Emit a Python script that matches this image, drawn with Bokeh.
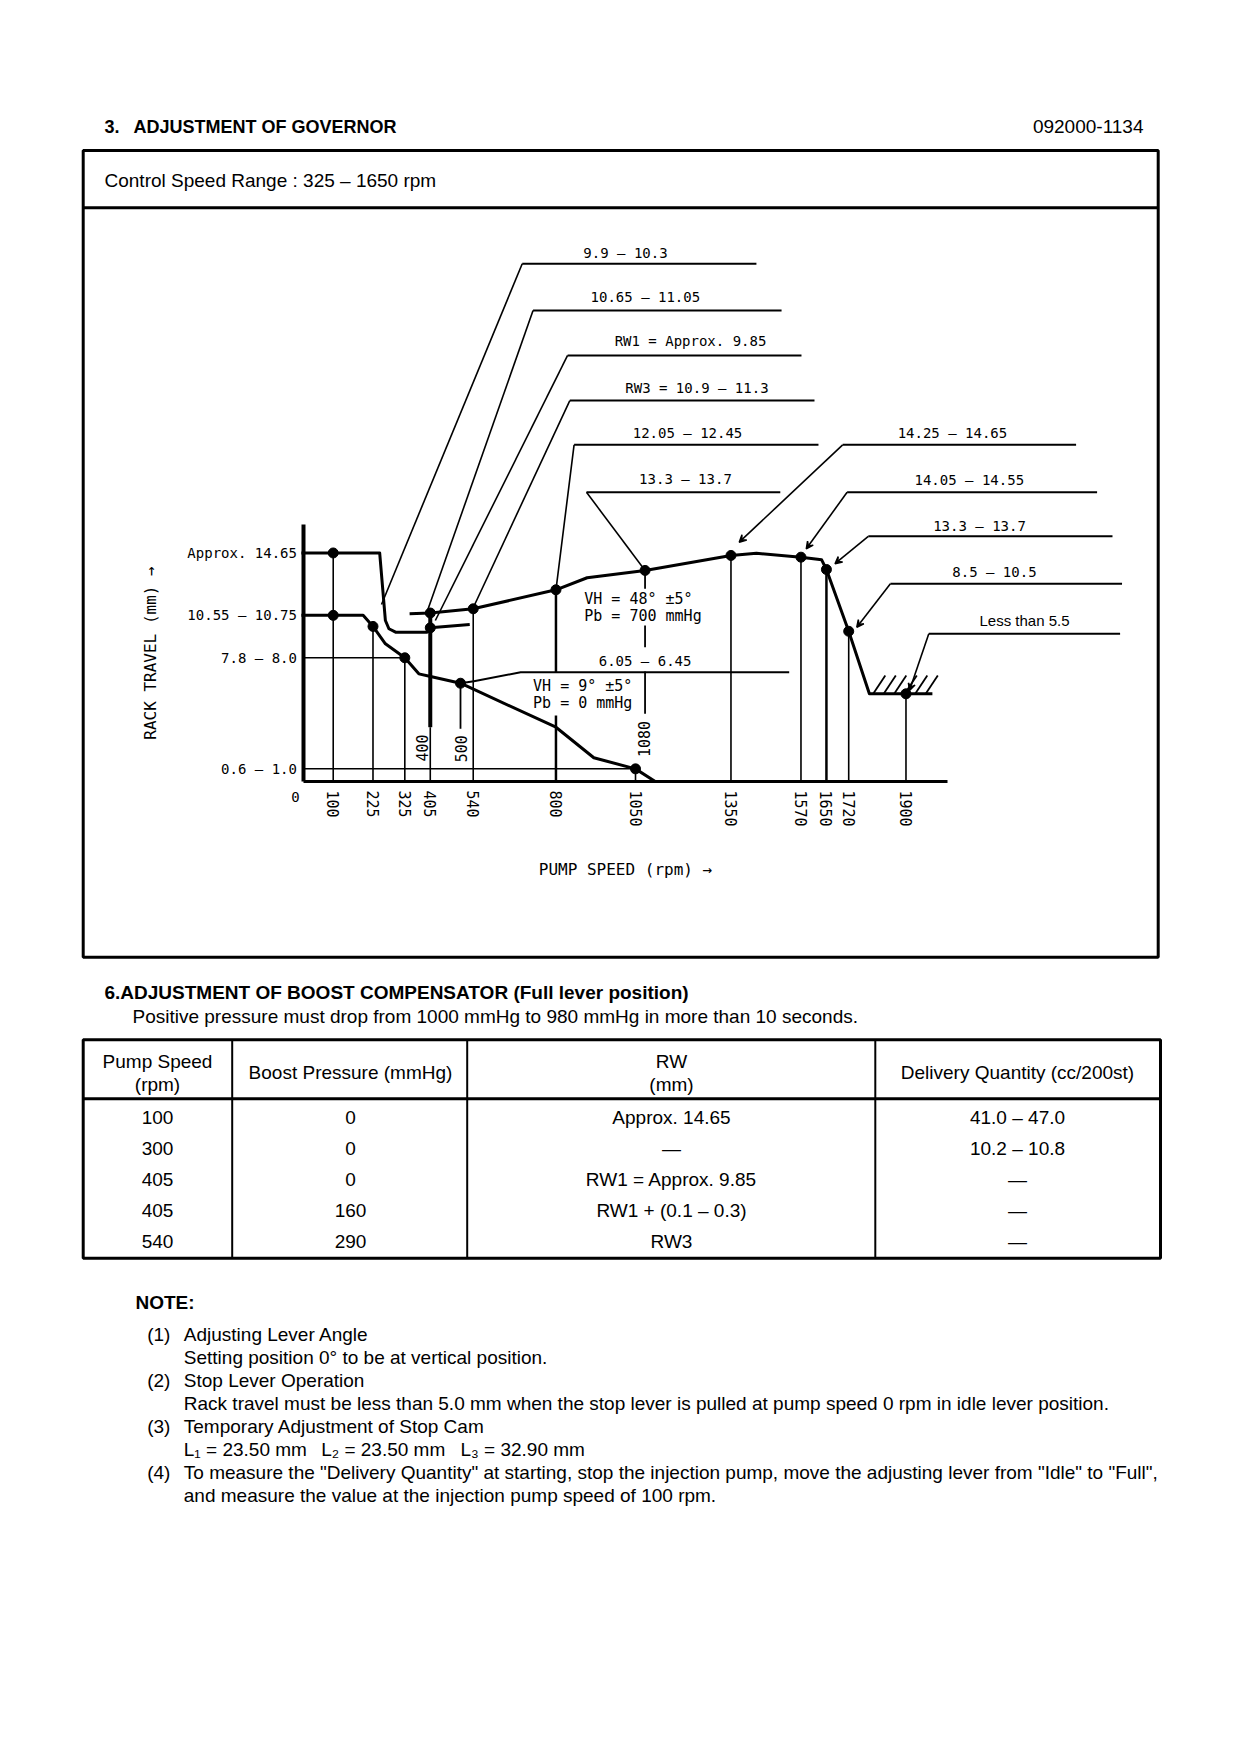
from math import pi
from bokeh.plotting import figure
from bokeh.models import Range1d, LinearAxis, FixedTicker, Arrow, VeeHead, ColumnDataSource
from bokeh.core.properties import value
from bokeh.embed import file_html
from bokeh.resources import INLINE

# ------------------------------------------------------------------ data
# axis ticks
x_tick_rpm = [100, 225, 325, 405, 540, 800, 1050, 1350, 1570, 1650, 1720, 1900]
y_tick_mm = [14.65, 10.65, 7.9, 0.8]
y_tick_labels = ["Approx. 14.65", "10.55 – 10.75", "7.8 – 8.0", "0.6 – 1.0"]

# starting curve (Pb = 0)
start_rpm = [0, 246, 264, 275, 296, 395, 405, 529]
start_mm = [14.65, 14.65, 10.32, 9.79, 9.57, 9.57, 9.85, 10.06]

# boost curve (VH = 48 deg, Pb = 700 mmHg)
boost_rpm = [340, 405, 540, 800, 898, 1080, 1350, 1430, 1570, 1635, 1650, 1720, 1785, 1983]
boost_mm = [10.75, 10.8, 11.07, 12.29, 13.06, 13.53, 14.49, 14.63, 14.38, 14.21, 13.59, 9.63, 5.62, 5.62]

# idle curve (VH = 9 deg, Pb = 0 mmHg)
idle_rpm = [0, 100, 194, 225, 264, 325, 369, 406, 500, 800, 919, 1050, 1112]
idle_mm = [10.65, 10.65, 10.65, 9.94, 8.83, 7.93, 6.9, 6.73, 6.3, 3.48, 1.52, 0.81, 0.0]

# 6.05 - 6.45 branch
branch_rpm = [500, 542, 689, 1533]
branch_mm = [6.3, 6.43, 7.0, 7.0]

# measuring points
pt_rpm = [100, 100, 225, 325, 405, 405, 500, 540, 800, 1050, 1080, 1350, 1570, 1650, 1720, 1900]
pt_mm = [14.65, 10.65, 9.94, 7.93, 9.85, 10.8, 6.3, 11.07, 12.29, 0.81, 13.53, 14.49, 14.38, 13.59, 9.63, 5.62]

# drop lines to the speed axis
drop_rpm = [100, 225, 325, 405, 540, 1050, 1350, 1570, 1720, 1900]
drop_top = [14.65, 9.94, 7.93, 3.48, 11.07, 0.81, 14.49, 14.38, 9.63, 5.62]
heavy_rpm = [405, 1650, 800, 800]
heavy_top = [10.8, 13.59, 12.29, 4.23]
heavy_bot = [3.48, 0.0, 7.0, 0.0]
part_rpm = [500, 1080, 1080, 1080]
part_top = [6.3, 13.53, 10.0, 7.05]
part_bot = [3.38, 12.35, 8.6, 4.34]

# horizontal guides from the rack travel axis
guide_mm = [7.93, 0.81]
guide_to = [325, 1050]

# hatch under "Less than 5.5"
hatch_rpm = [1797, 1830, 1863, 1896, 1929, 1962]
hatch_lo, hatch_hi = 5.62, 6.79

# in-chart notes
rot_text = ["400", "500", "1080"]
rot_rpm = [380, 502, 1078]
rot_mm = [2.15, 2.1, 2.73]
vh_text = ["VH = 48° ±5°", "Pb = 700 mmHg", "VH = 9° ±5°", "Pb = 0 mmHg"]
vh_rpm = [889, 889, 728, 728]
vh_mm = [11.7, 10.64, 6.11, 5.02]
mid_text = ["6.05 – 6.45"]
mid_rpm = [1080]
mid_mm = [7.7]

# leader annotations
ann_text = ["9.9 – 10.3", "10.65 – 11.05", "RW1 = Approx. 9.85", "RW3 = 10.9 – 11.3",
            "12.05 – 12.45", "13.3 – 13.7", "14.25 – 14.65", "14.05 – 14.55",
            "13.3 – 13.7", "8.5 – 10.5", "Less than 5.5"]
ann_lab_rpm = [1018.5, 1081, 1222.8, 1243, 1213.4, 1207, 2046, 2099, 2131, 2178, 2272.5]
ann_lab_mm = [33.87, 31.04, 28.21, 25.21, 22.37, 19.4, 22.37, 19.34, 16.41, 13.46, 10.32]
ann_line_mm = [33.19, 30.19, 27.31, 24.42, 21.58, 18.54, 21.58, 18.54, 15.72, 12.67, 9.47]
ann_from = [694, 728, 836.6, 843.5, 857, 896, 1701, 1715, 1781.6, 1851, 1971.7]
ann_to = [1430, 1509, 1571.6, 1612.5, 1625, 1505, 2434.6, 2500.6, 2549, 2579, 2572.9]
ann_tip_rpm = [251.7, 397, 421, 541.8, 800, 1080, 1376, 1586.7, 1677, 1745.4, 1911]
ann_tip_mm = [11.35, 11.0, 10.32, 11.22, 12.29, 13.53, 15.34, 14.92, 13.96, 9.89, 5.83]
ann_arrow = [False, False, False, False, False, False, True, True, True, True, True]

# page texts
title_num = "3."
title_text = "ADJUSTMENT OF GOVERNOR"
part_no = "092000-1134"
speed_range = "Control Speed Range : 325 – 1650 rpm"
sec6_title = "6.ADJUSTMENT OF BOOST COMPENSATOR (Full lever position)"
sec6_sub = "Positive pressure must drop from 1000 mmHg to 980 mmHg in more than 10 seconds."

tbl_head = [["Pump Speed", "(rpm)"], ["Boost Pressure (mmHg)"], ["RW", "(mm)"], ["Delivery Quantity (cc/200st)"]]
tbl_speed = ["100", "300", "405", "405", "540"]
tbl_boost = ["0", "0", "0", "160", "290"]
tbl_rw = ["Approx. 14.65", "—", "RW1 = Approx. 9.85", "RW1 + (0.1 – 0.3)", "RW3"]
tbl_q = ["41.0 – 47.0", "10.2 – 10.8", "—", "—", "—"]

note_head = "NOTE:"
note_nums = ["(1)", "(2)", "(3)", "(4)"]
note_lines = [
    "Adjusting Lever Angle",
    "Setting position 0° to be at vertical position.",
    "Stop Lever Operation",
    "Rack travel must be less than 5.0 mm when the stop lever is pulled at pump speed 0 rpm in idle lever position.",
    "Temporary Adjustment of Stop Cam",
    None,
    "To measure the \"Delivery Quantity\" at starting, stop the injection pump, move the adjusting lever from \"Idle\" to \"Full\",",
    "and measure the value at the injection pump speed of 100 rpm.",
]
cam_text = ["L₁ = 23.50 mm", "L₂ = 23.50 mm", "L₃ = 32.90 mm"]

# ------------------------------------------------------------------ layout
PW, PH, OFF = 1224, 1738, 0
RPM0_X, PX_RPM = 300.9, 0.3182      # page x of 0 rpm, px per rpm
MM0_Y, PX_MM = 781.0, 15.6          # page y of 0 mm, px per mm

CHART_FONT = value("DejaVu Sans Mono")
PAGE_FONT = value("Liberation Sans")

p = figure(width=PW, height=PH,
           x_range=Range1d((OFF - RPM0_X) / PX_RPM, (OFF + PW - RPM0_X) / PX_RPM),
           y_range=Range1d((MM0_Y - (OFF + PH)) / PX_MM, (MM0_Y - OFF) / PX_MM),
           output_backend="svg", toolbar_location=None,
           x_axis_location=None, y_axis_location=None, min_border=0,
           outline_line_color=None, background_fill_color="white", border_fill_color="white")
p.grid.visible = False
p.extra_x_ranges = {"page": Range1d(OFF, OFF + PW)}
p.extra_y_ranges = {"page": Range1d(OFF + PH, OFF)}
PG = dict(x_range_name="page", y_range_name="page")

# ---- axes of the governor chart
xaxis = LinearAxis(fixed_location=0, bounds=(8, 2032), ticker=FixedTicker(ticks=x_tick_rpm),
                   major_label_orientation="vertical", major_label_standoff=9,
                   major_tick_in=0, major_tick_out=0, minor_tick_in=0, minor_tick_out=0,
                   axis_line_width=3, axis_line_color="black",
                   major_label_text_font="DejaVu Sans Mono", major_label_text_font_size="15px",
                   major_label_text_color="black",
                   axis_label="PUMP SPEED (rpm) →", axis_label_standoff=30,
                   axis_label_text_font="DejaVu Sans Mono", axis_label_text_font_size="16px",
                   axis_label_text_font_style="normal", axis_label_text_color="black")
p.add_layout(xaxis, "below")

yaxis = LinearAxis(fixed_location=8, bounds=(0, 16.5), ticker=FixedTicker(ticks=y_tick_mm),
                   major_label_overrides={t: s for t, s in zip(y_tick_mm, y_tick_labels)},
                   major_label_standoff=7,
                   major_tick_in=0, major_tick_out=0, minor_tick_in=0, minor_tick_out=0,
                   axis_line_width=4, axis_line_color="black",
                   major_label_text_font="DejaVu Sans Mono", major_label_text_font_size="14px",
                   major_label_text_color="black",
                   axis_label="RACK TRAVEL (mm) →", axis_label_standoff=24,
                   axis_label_text_font="DejaVu Sans Mono", axis_label_text_font_size="16px",
                   axis_label_text_font_style="normal", axis_label_text_color="black")
p.add_layout(yaxis, "left")

p.text(x=[-18.5], y=[-1.0], text=["0"], text_font=CHART_FONT, text_font_size="14px",
       text_align="center", text_baseline="middle", text_color="black")

# ---- guides and drop lines
p.segment(x0=[8] * len(guide_mm), y0=guide_mm, x1=guide_to, y1=guide_mm, line_width=1.5, color="black")
p.segment(x0=drop_rpm, y0=drop_top, x1=drop_rpm, y1=[0] * len(drop_rpm), line_width=1.6, color="black")
p.segment(x0=heavy_rpm, y0=heavy_top, x1=heavy_rpm, y1=heavy_bot, line_width=[4, 2.5, 2.5, 2.5], color="black")
p.segment(x0=part_rpm, y0=part_top, x1=part_rpm, y1=part_bot, line_width=1.8, color="black")

# ---- curves
for xs, ys, w in [(start_rpm, start_mm, 3), (boost_rpm, boost_mm, 3),
                  (idle_rpm, idle_mm, 3), (branch_rpm, branch_mm, 2)]:
    p.line(xs, ys, line_width=w, color="black", line_join="round")

# hatch
p.segment(x0=hatch_rpm, y0=[hatch_lo] * len(hatch_rpm),
          x1=[r + 38 for r in hatch_rpm], y1=[hatch_hi] * len(hatch_rpm), line_width=1.8, color="black")

# measuring points
p.scatter(pt_rpm, pt_mm, marker="circle", size=10, color="black")

# ---- leader annotations
p.segment(x0=ann_from, y0=ann_line_mm, x1=ann_to, y1=ann_line_mm, line_width=2, color="black")
plain = [i for i, a in enumerate(ann_arrow) if not a]
arrowed = [i for i, a in enumerate(ann_arrow) if a]
p.segment(x0=[ann_from[i] for i in plain], y0=[ann_line_mm[i] for i in plain],
          x1=[ann_tip_rpm[i] for i in plain], y1=[ann_tip_mm[i] for i in plain],
          line_width=1.6, color="black")
arr_src = ColumnDataSource(dict(x0=[ann_from[i] for i in arrowed], y0=[ann_line_mm[i] for i in arrowed],
                                x1=[ann_tip_rpm[i] for i in arrowed], y1=[ann_tip_mm[i] for i in arrowed]))
p.add_layout(Arrow(end=VeeHead(size=7, line_width=1.5, line_color="black"),
                   x_start="x0", y_start="y0", x_end="x1", y_end="y1", source=arr_src,
                   line_width=1.6, line_color="black"))
p.text(x=ann_lab_rpm[:-1], y=ann_lab_mm[:-1], text=ann_text[:-1], text_font=CHART_FONT,
       text_font_size="14px", text_align="center", text_baseline="middle", text_color="black")
p.text(x=ann_lab_rpm[-1:], y=ann_lab_mm[-1:], text=ann_text[-1:], text_font=PAGE_FONT,
       text_font_size="15px", text_align="center", text_baseline="middle", text_color="black")

p.text(x=rot_rpm, y=rot_mm, text=rot_text, angle=pi / 2, text_font=CHART_FONT, text_font_size="15px",
       text_align="center", text_baseline="middle", text_color="black")
p.text(x=vh_rpm, y=vh_mm, text=vh_text, text_font=CHART_FONT, text_font_size="15px",
       text_align="left", text_baseline="middle", text_color="black")
p.text(x=mid_rpm, y=mid_mm, text=mid_text, text_font=CHART_FONT, text_font_size="14px",
       text_align="center", text_baseline="middle", text_color="black")

# ------------------------------------------------------------------ page furniture
def ptext(xs, ys, ts, size="19px", bold=False, align="left"):
    p.text(x=xs, y=ys, text=ts, text_font=PAGE_FONT, text_font_size=size,
           text_font_style="bold" if bold else "normal", text_align=align,
           text_baseline="middle", text_color="black", **PG)

ptext([104], [126], [title_num], bold=True, size="18px")
ptext([133], [126], [title_text], bold=True, size="18px")
ptext([1143], [126], [part_no], align="right")

# governor box
p.quad(left=[82.7], right=[1157.7], top=[150], bottom=[956.7], fill_color=None,
       line_color="black", line_width=3, **PG)
p.segment(x0=[82.7], y0=[207.3], x1=[1157.7], y1=[207.3], line_width=3, color="black", **PG)
ptext([104], [180], [speed_range])

# section 6
ptext([104], [992], [sec6_title], bold=True)
ptext([132], [1015.5], [sec6_sub])

TL, TR, TT, TB, THB = 82.7, 1160, 1039.3, 1257.7, 1098.3
col_lines = [231.7, 466.7, 874.8]
col_x = [157, 350, 671, 1017]
p.quad(left=[TL], right=[TR], top=[TT], bottom=[TB], fill_color=None, line_color="black",
       line_width=3, **PG)
p.segment(x0=[TL], y0=[THB], x1=[TR], y1=[THB], line_width=3, color="black", **PG)
p.segment(x0=col_lines, y0=[TT] * 3, x1=col_lines, y1=[TB] * 3, line_width=2, color="black", **PG)
for cx, head in zip(col_x, tbl_head):
    if len(head) == 2:
        ptext([cx, cx], [1060.5, 1084], head, align="center")
    else:
        ptext([cx], [1072], head, align="center")
row_y = [1117 + 31 * i for i in range(len(tbl_speed))]
for cx, col in zip(col_x, [tbl_speed, tbl_boost, tbl_rw, tbl_q]):
    ptext([cx] * len(col), row_y, col, align="center")

# notes
ptext([135], [1302], [note_head], bold=True)
ptext([146.7] * 4, [1334, 1380, 1426, 1472.3], note_nums)
nl_y = [1334, 1356.7, 1380, 1402.7, 1426, 1449, 1472.3, 1495]
ptext([183.3] * 7, [y for y, t in zip(nl_y, note_lines) if t], [t for t in note_lines if t])
ptext([183.3, 320.7, 460], [1449] * 3, cam_text)

open("out.html", "w").write(file_html(p, INLINE))
